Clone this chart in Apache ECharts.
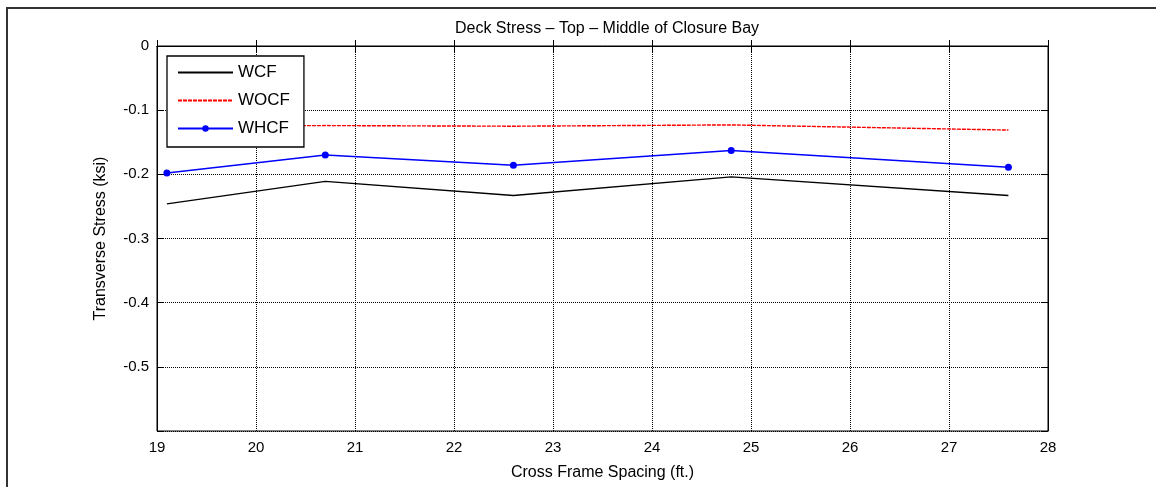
<!DOCTYPE html>
<html>
<head>
<meta charset="utf-8">
<script src="https://cdn.jsdelivr.net/npm/echarts@6/dist/echarts.min.js"></script>
<style>
html,body{margin:0;padding:0;background:#fff;}
#chart{width:1156px;height:487px;}
</style>
</head>
<body>
<div id="chart"></div>
<script>
const titleText = 'Deck Stress \u2013 Top \u2013 Middle of Closure Bay';
const xAxisTitle = 'Cross Frame Spacing (ft.)';
const yAxisTitle = 'Transverse Stress (ksi)';
const spacing = [19.1, 20.7, 22.6, 24.8, 27.6];
const seriesNames = ['WCF', 'WOCF', 'WHCF'];
const wcf  = [-0.246, -0.211, -0.233, -0.204, -0.233];
const wocf = [-0.125, -0.124, -0.125, -0.123, -0.131];
const whcf = [-0.198, -0.170, -0.186, -0.163, -0.189];
const xMin = 19, xMax = 28, xStep = 1;
const yMin = -0.6, yMax = 0, yStep = 0.1;

const FONT = '"Liberation Sans", Arial, sans-serif';
const chart = echarts.init(document.getElementById('chart'));
const pairs = arr => spacing.map((x, i) => [x, arr[i]]);
const gridLine = {show: true, lineStyle: {color: '#000', type: [1, 1], width: 1}};
const tickIn = {show: true, inside: true, length: 6, lineStyle: {color: '#000'}};
const yFmt = v => Math.abs(v - yMin) < 1e-9 ? '' : String(Math.round(v * 10) / 10);
const hiddenSym = {color: 'rgba(0,0,0,0)', borderColor: 'rgba(0,0,0,0)', borderWidth: 0, opacity: 0};

chart.setOption({
  animation: false,
  backgroundColor: '#fff',
  textStyle: {fontFamily: FONT},
  title: {
    text: titleText, left: 602, top: 16, textAlign: 'center',
    textStyle: {fontFamily: FONT, fontSize: 16, fontWeight: 'normal', color: '#000'}
  },
  graphic: [{
    type: 'rect', shape: {x: 7, y: 8, width: 1200, height: 520},
    style: {fill: 'none', stroke: '#333', lineWidth: 2}, silent: true, z: -1
  }],
  grid: {left: 157, right: 108, top: 46, bottom: 56, show: true, borderColor: '#000', borderWidth: 1, backgroundColor: '#fff'},
  legend: {
    data: [
      {name: seriesNames[0], itemStyle: hiddenSym},
      {name: seriesNames[1], itemStyle: hiddenSym},
      {name: seriesNames[2]}
    ],
    orient: 'vertical', left: 167, top: 56,
    itemWidth: 55, itemHeight: 8, itemGap: 11,
    padding: [8, 14, 10, 10],
    backgroundColor: '#fff', borderColor: '#000', borderWidth: 1.3,
    textStyle: {fontFamily: FONT, fontSize: 17, color: '#000'}
  },
  xAxis: [{
    type: 'value', min: xMin, max: xMax, interval: xStep, position: 'bottom',
    name: xAxisTitle, nameLocation: 'middle', nameGap: 34,
    nameTextStyle: {fontFamily: FONT, fontSize: 16, color: '#000'},
    axisLine: {show: true, lineStyle: {color: '#000'}}, axisTick: tickIn,
    axisLabel: {color: '#000', fontSize: 15, margin: 9, fontFamily: FONT},
    splitLine: gridLine
  }, {
    type: 'value', min: xMin, max: xMax, interval: xStep, position: 'top',
    axisLine: {show: true, lineStyle: {color: '#000'}}, axisTick: tickIn,
    axisLabel: {show: false}, splitLine: {show: false}
  }],
  yAxis: [{
    type: 'value', min: yMin, max: yMax, interval: yStep, position: 'left',
    name: yAxisTitle, nameLocation: 'middle', nameGap: 48,
    nameTextStyle: {fontFamily: FONT, fontSize: 16, color: '#000'},
    axisLine: {show: true, lineStyle: {color: '#000'}}, axisTick: tickIn,
    axisLabel: {color: '#000', fontSize: 15, margin: 8, fontFamily: FONT, formatter: yFmt},
    splitLine: gridLine
  }, {
    type: 'value', min: yMin, max: yMax, interval: yStep, position: 'right',
    axisLine: {show: true, lineStyle: {color: '#000'}}, axisTick: tickIn,
    axisLabel: {show: false}, splitLine: {show: false}
  }],
  series: [{
    name: seriesNames[0], type: 'line', data: pairs(wcf),
    symbol: 'none', lineStyle: {color: '#000', width: 1.3}, itemStyle: {color: '#000'}, z: 3
  }, {
    name: seriesNames[1], type: 'line', data: pairs(wocf),
    symbol: 'none', lineStyle: {color: '#f00', width: 1.4, type: [4, 1]}, itemStyle: {color: '#f00'}, z: 3
  }, {
    name: seriesNames[2], type: 'line', data: pairs(whcf),
    symbol: 'circle', symbolSize: 7, showSymbol: true,
    lineStyle: {color: '#00f', width: 1.5}, itemStyle: {color: '#00f'}, z: 4
  }]
});
</script>
</body>
</html>
